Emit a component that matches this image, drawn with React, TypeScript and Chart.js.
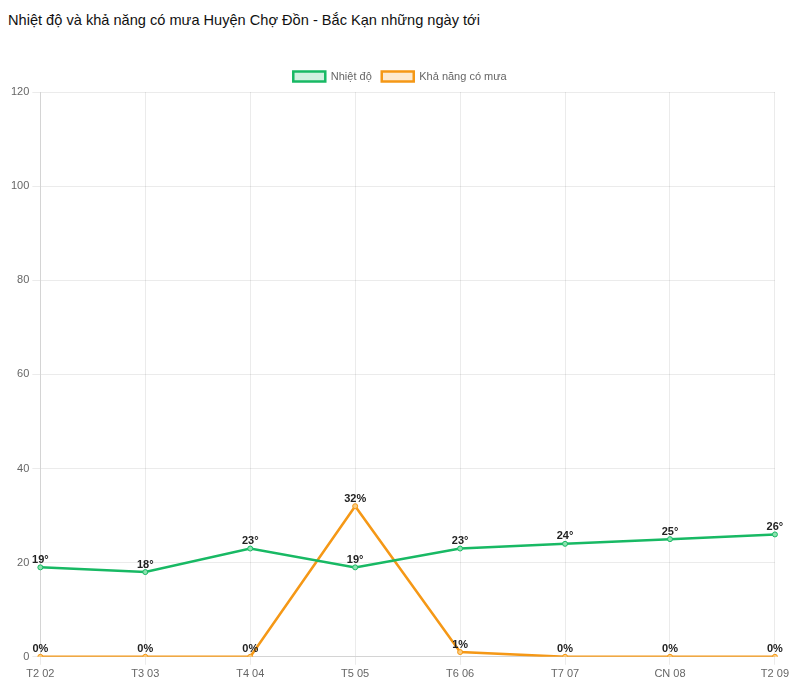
import React, { useEffect, useRef } from "react";
import { Chart, registerables } from "chart.js";

Chart.register(...registerables);

const titleText = "Nhiệt độ và khả năng có mưa Huyện Chợ Đồn - Bắc Kạn những ngày tới";
const categories = ["T2 02", "T3 03", "T4 04", "T5 05", "T6 06", "T7 07", "CN 08", "T2 09"];
const temperature = [19, 18, 23, 19, 23, 24, 25, 26];
const rainChance = [0, 0, 0, 32, 1, 0, 0, 0];
const yTicks = { min: 0, max: 120, step: 20 };

const GREEN = "rgb(24,185,100)";
const ORANGE = "rgb(245,152,22)";

const labelPlugin = {
  id: "pointLabels",
  afterDatasetsDraw(chart: any) {
    const ctx = chart.ctx;
    ctx.save();
    ctx.font = "bold 11px Arial, 'Liberation Sans', sans-serif";
    ctx.fillStyle = "#222";
    ctx.textAlign = "center";
    ctx.textBaseline = "bottom";
    chart.data.datasets.forEach((ds: any, i: number) => {
      const meta = chart.getDatasetMeta(i);
      meta.data.forEach((pt: any, j: number) => {
        const v = ds.data[j];
        const txt = i === 0 ? `${v}°` : `${v}%`;
        ctx.fillText(txt, pt.x, pt.y - 2);
      });
    });
    ctx.restore();
  },
};

export default function App() {
  const ref = useRef<HTMLCanvasElement>(null);
  useEffect(() => {
    if (!ref.current) return;
    const chart = new Chart(ref.current, {
      type: "line",
      data: {
        labels: categories,
        datasets: [
          {
            label: "Nhiệt độ",
            data: temperature,
            borderColor: GREEN,
            backgroundColor: "rgba(24,185,100,0.2)",
            pointBackgroundColor: "rgba(140,225,175,1)",
            pointBorderColor: GREEN,
            borderWidth: 2.5,
            pointBorderWidth: 1,
            pointRadius: 2.5,
            tension: 0,
            fill: false,
          },
          {
            label: "Khả năng có mưa",
            data: rainChance,
            borderColor: ORANGE,
            backgroundColor: "rgba(245,152,22,0.2)",
            pointBackgroundColor: "rgba(250,205,130,1)",
            pointBorderColor: ORANGE,
            borderWidth: 2.5,
            pointBorderWidth: 1,
            pointRadius: 2.5,
            tension: 0,
            fill: false,
          },
        ],
      },
      options: {
        animation: false,
        responsive: false,
        maintainAspectRatio: false,
        plugins: {
          legend: {
            labels: {
              boxWidth: 32,
              boxHeight: 10,
              color: "#666",
              font: { size: 11, family: "Arial, 'Liberation Sans', sans-serif" },
            },
          },
          tooltip: { enabled: false },
        },
        scales: {
          x: {
            grid: { color: "rgba(0,0,0,0.08)", tickLength: 8 },
            ticks: { color: "#666", font: { size: 11, family: "Arial, 'Liberation Sans', sans-serif" }, padding: 3 },
          },
          y: {
            min: yTicks.min,
            max: yTicks.max,
            grid: { color: "rgba(0,0,0,0.08)", tickLength: 8 },
            ticks: {
              stepSize: yTicks.step,
              color: "#666",
              font: { size: 11, family: "Arial, 'Liberation Sans', sans-serif" },
              padding: 3,
            },
          },
        },
      },
      plugins: [labelPlugin],
    });
    return () => chart.destroy();
  }, []);
  return (
    <div>
      <div
        style={{
          fontFamily: "Arial, 'Liberation Sans', sans-serif",
          fontSize: 14.6,
          lineHeight: "24px",
          height: 53,
          color: "#111",
        }}
      >
        {titleText}
      </div>
      <canvas ref={ref} width={784} height={623} style={{ display: "block" }} />
    </div>
  );
}
